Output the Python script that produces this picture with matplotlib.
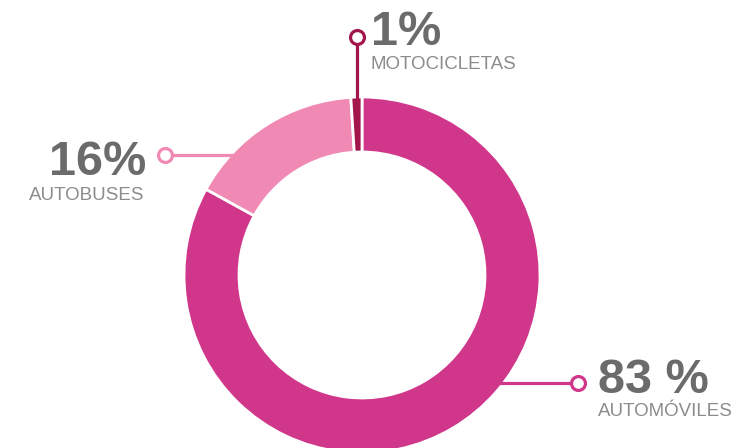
import matplotlib.pyplot as plt
import numpy as np

plt.rcParams.update({
    "font.family": ["Liberation Sans", "DejaVu Sans"],
})

labels = ["AUTOMÓVILES", "AUTOBUSES", "MOTOCICLETAS"]
values = [83, 16, 1]
pct_text = ["83 %", "16%", "1%"]
colors = ["#d0368a", "#f08ab5", "#a3164c"]

W, H = 738, 448
fig = plt.figure(figsize=(W / 100, H / 100), dpi=100)
ax = fig.add_axes([0, 0, 1, 1])

# donut, in pixel coords with y going up
cx, cy, R, ring = 362, H - 275, 178, 55
ax.pie(values, colors=colors, startangle=90, counterclock=False,
       radius=R, center=(cx, cy), frame=True,
       wedgeprops=dict(width=ring, edgecolor="white", linewidth=2))
ax.set_xlim(0, W)
ax.set_ylim(0, H)
ax.set_aspect("equal")
ax.axis("off")

def leader(x0, y0, x1, y1, color):
    ax.plot([x0, x1], [y0, y1], color=color, lw=2.3, solid_capstyle="butt", zorder=3)
    ax.plot(x1, y1, "o", ms=10, mfc="white", mec=color, mew=2.3, zorder=4)

pct_col = "#6b6b6b"
lab_col = "#8c8c8c"
big, small = 35, 13.5

# automoviles (right)
y = H - 383
x0 = cx + np.sqrt(R**2 - (cy - y)**2) - 4
leader(x0, y, 578, y, colors[0])
ax.text(598, H - 393, pct_text[0], fontsize=big, fontweight="bold", color=pct_col, ha="left", va="baseline")
ax.text(598, H - 416, labels[0], fontsize=small, color=lab_col, ha="left", va="baseline")

# autobuses (left)
y = H - 155
x0 = cx - np.sqrt(R**2 - (y - cy)**2) + 4
leader(x0, y, 165, y, colors[1])
ax.text(146, H - 175, pct_text[1], fontsize=big, fontweight="bold", color=pct_col, ha="right", va="baseline")
ax.text(144, H - 200, labels[1], fontsize=small, color=lab_col, ha="right", va="baseline")

# motocicletas (top)
x = 357
leader(x, cy + R - 4, x, H - 37, colors[2])
ax.text(371, H - 45, pct_text[2], fontsize=big, fontweight="bold", color=pct_col, ha="left", va="baseline")
ax.text(371, H - 69, labels[2], fontsize=small, color=lab_col, ha="left", va="baseline")

fig.savefig("out.png", dpi=100)
